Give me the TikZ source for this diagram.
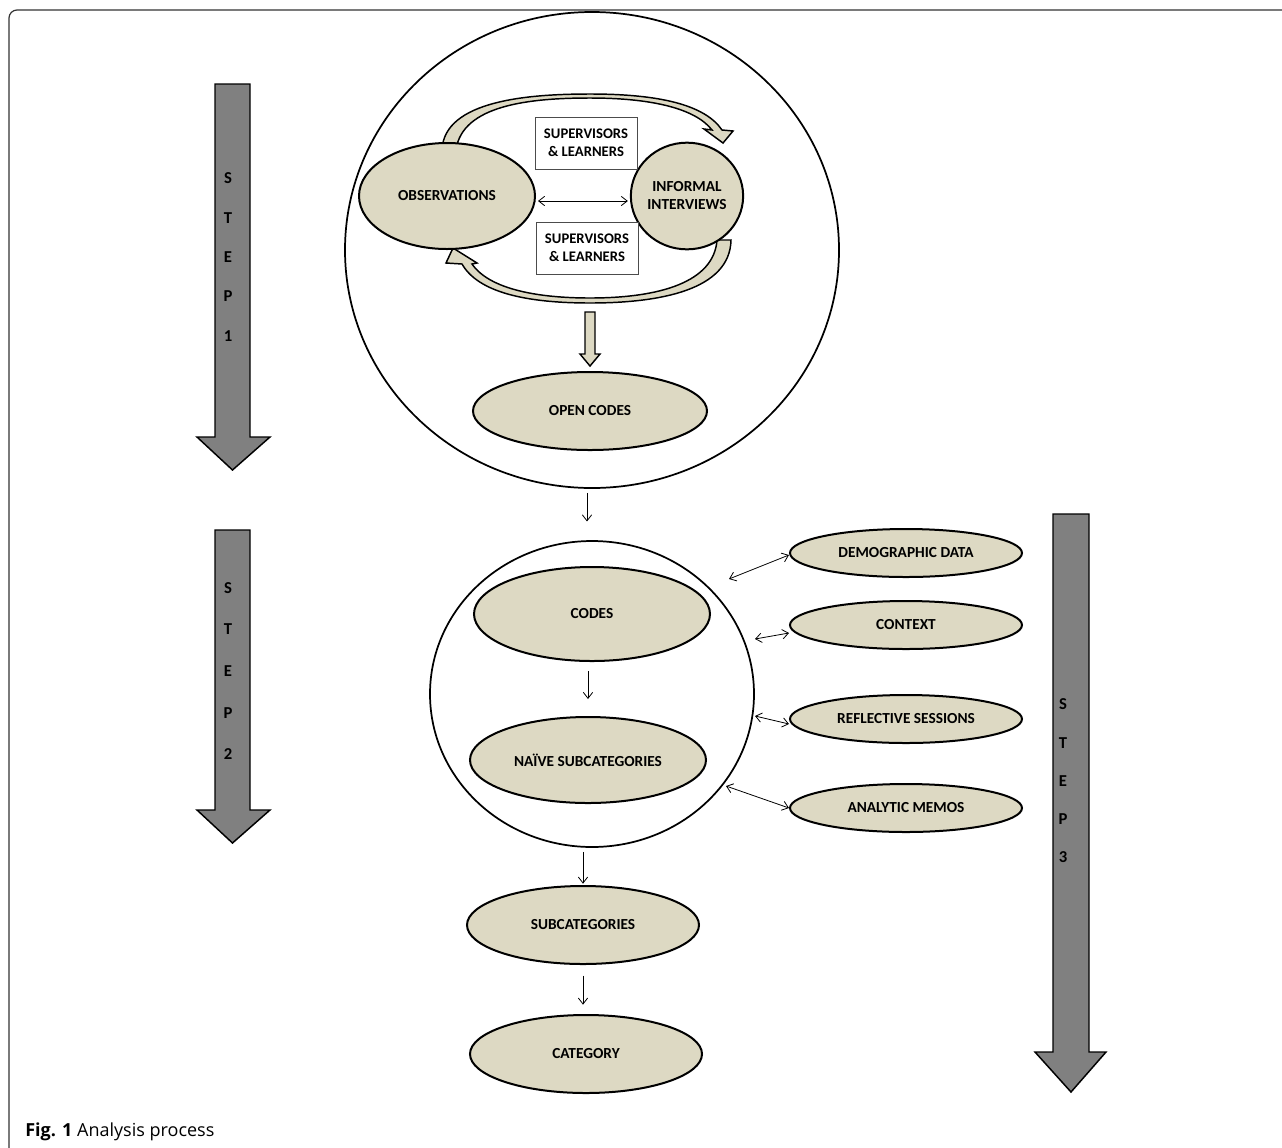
\documentclass[tikz,border=0pt]{standalone}
\usepackage{fontspec}
\setmainfont{Carlito}
\newfontfamily\capfont{Open Sans}
\usetikzlibrary{shapes.geometric, arrows.meta, positioning}
\definecolor{stageTan}{HTML}{DDD9C3}
\definecolor{stepGray}{HTML}{808080}
\definecolor{frameGray}{HTML}{333333}

\begin{document}
\begin{tikzpicture}[
    x=0.75pt, y=-0.75pt,
    >={Straight Barb[length=4.5pt, width=7pt]},
    stage/.style={
        ellipse,
        draw=black,
        line width=1.5pt,
        fill=stageTan,
        inner sep=0pt,
        align=center,
        font=\bfseries\fontsize{11.5}{13.5}\selectfont
    },
    ring/.style={ellipse, draw=black, line width=1.3pt, inner sep=0pt},
    who/.style={
        rectangle,
        draw=black!70,
        line width=0.75pt,
        fill=white,
        minimum width=76.5pt,
        minimum height=39pt,
        align=center,
        font=\bfseries\fontsize{11}{13.3}\selectfont
    },
    flow/.style={->, line width=0.6pt},
    twoway/.style={<->, line width=0.6pt},
    band/.style={fill=stageTan, draw=black, line width=1.1pt},
    stepbar/.style={fill=stepGray, draw=black, line width=1.1pt},
    steptext/.style={align=center, inner sep=0pt}
]
\useasboundingbox (0,0) rectangle (1282,1147);

% frame and caption
\draw[frameGray, line width=0.9pt, rounded corners=6pt] (9,1160) -- (9,10) -- (1295,10);
\node[anchor=base west, inner sep=0pt, font=\capfont\fontsize{13.5}{15}\selectfont] (caption) at (25,1136) {\textbf{Fig. 1} Analysis process};

% step arrows
\draw[stepbar] (215,84) -- (250,84) -- (250,437) -- (270,437) -- (232.5,470) -- (197,437) -- (215,437) -- cycle;
\node[steptext, font=\bfseries\fontsize{12.5}{29.6}\selectfont] (step1) at (228,257) {S\\T\\E\\P\\1};
\draw[stepbar] (215,530) -- (250,530) -- (250,810) -- (270,810) -- (232.5,843) -- (197,810) -- (215,810) -- cycle;
\node[steptext, font=\bfseries\fontsize{12.5}{31.3}\selectfont] (step2) at (228,671) {S\\T\\E\\P\\2};
\draw[stepbar] (1053,514) -- (1089,514) -- (1089,1052) -- (1106,1052) -- (1071,1092) -- (1035,1052) -- (1053,1052) -- cycle;
\node[steptext, font=\bfseries\fontsize{12.5}{28.7}\selectfont] (step3) at (1063,781) {S\\T\\E\\P\\3};

% step 1
\node[ring, minimum width=370.5pt, minimum height=357pt] (loop1) at (592,250) {};
\filldraw[band] (442,150) .. controls (444,100) and (530,94) .. (590,94) .. controls (660,94) and (705,105) .. (722,130)
    -- (733,131) -- (723,143) -- (704,129) -- (712,130) .. controls (695,108) and (650,98) .. (590,98)
    .. controls (530,98) and (462,105) .. (456,150) -- cycle;
\filldraw[band] (717,240) -- (731,240) .. controls (730,290) and (660,303) .. (590,303) .. controls (525,303) and (478,292) .. (462,264)
    -- (446,263) -- (453,248) -- (477,263) -- (472,264) .. controls (490,290) and (540,298) .. (590,298)
    .. controls (660,298) and (714,282) .. (717,240) -- cycle;
\node[stage, minimum width=132pt, minimum height=79.5pt] (obs) at (447,196) {OBSERVATIONS};
\node[stage, minimum width=76pt, minimum height=80pt] (intv) at (687,196) {INFORMAL\\INTERVIEWS};
\node[who] (who1) at (586,143) {SUPERVISORS\\\& LEARNERS};
\node[who] (who2) at (587,248) {SUPERVISORS\\\& LEARNERS};
\draw[twoway, shorten <=1.5pt, shorten >=1.5pt] ([yshift=-3.75pt]obs.east) -- ([yshift=-3.75pt]intv.west);
\node[stage, minimum width=175.5pt, minimum height=58.5pt] (open) at (590,411) {OPEN CODES};
\filldraw[band] (585,312) -- (595,312) -- (595,354) -- (600,354) -- (590,366) -- (580,354) -- (585,354) -- cycle;

% step 2
\node[ring, minimum width=243pt, minimum height=229.5pt] (loop2) at (592,694) {};
\draw[flow, shorten <=3pt, shorten >=14pt] ([xshift=-3.75pt]loop1.south) -- ([xshift=-3.75pt]loop2.north);
\node[stage, minimum width=177pt, minimum height=70.5pt] (codes) at (592,614) {CODES};
\node[stage, minimum width=177pt, minimum height=64.5pt] (naive) at (588,760) {NAÏVE SUBCATEGORIES};
\draw[flow, shorten <=6.75pt, shorten >=12.75pt] (naive.north |- codes.south) -- (naive.north);

% step 3
\node[stage, minimum width=174pt, minimum height=36pt] (demo) at (906,553) {DEMOGRAPHIC DATA};
\node[stage, minimum width=174pt, minimum height=36pt] (ctx) at (906,625) {CONTEXT};
\node[stage, minimum width=174pt, minimum height=36pt] (refl) at (906,719) {REFLECTIVE SESSIONS};
\node[stage, minimum width=174pt, minimum height=36pt] (memo) at (906,808) {ANALYTIC MEMOS};
\coordinate (demo-in) at (729,579);
\coordinate (ctx-in) at (755,639);
\coordinate (refl-in) at (755,716);
\coordinate (memo-in) at (726,786);
\draw[twoway] (demo-in) -- ([yshift=-1.5pt]demo.west);
\draw[twoway] (ctx-in) -- ([yshift=-6pt]ctx.west);
\draw[twoway] (refl-in) -- ([yshift=-3.75pt]refl.west);
\draw[twoway] (memo-in) -- (memo.west);

\node[stage, minimum width=174pt, minimum height=58.5pt] (subc) at (583,925) {SUBCATEGORIES};
\node[stage, minimum width=174pt, minimum height=58.5pt] (cat) at (586,1054) {CATEGORY};
\draw[flow, shorten <=3pt, shorten >=1pt] (subc.north |- loop2.south) -- (subc.north);
\draw[flow, shorten <=8pt, shorten >=7pt] (subc.south) -- (subc.south |- cat.north);

\end{tikzpicture}
\end{document}
